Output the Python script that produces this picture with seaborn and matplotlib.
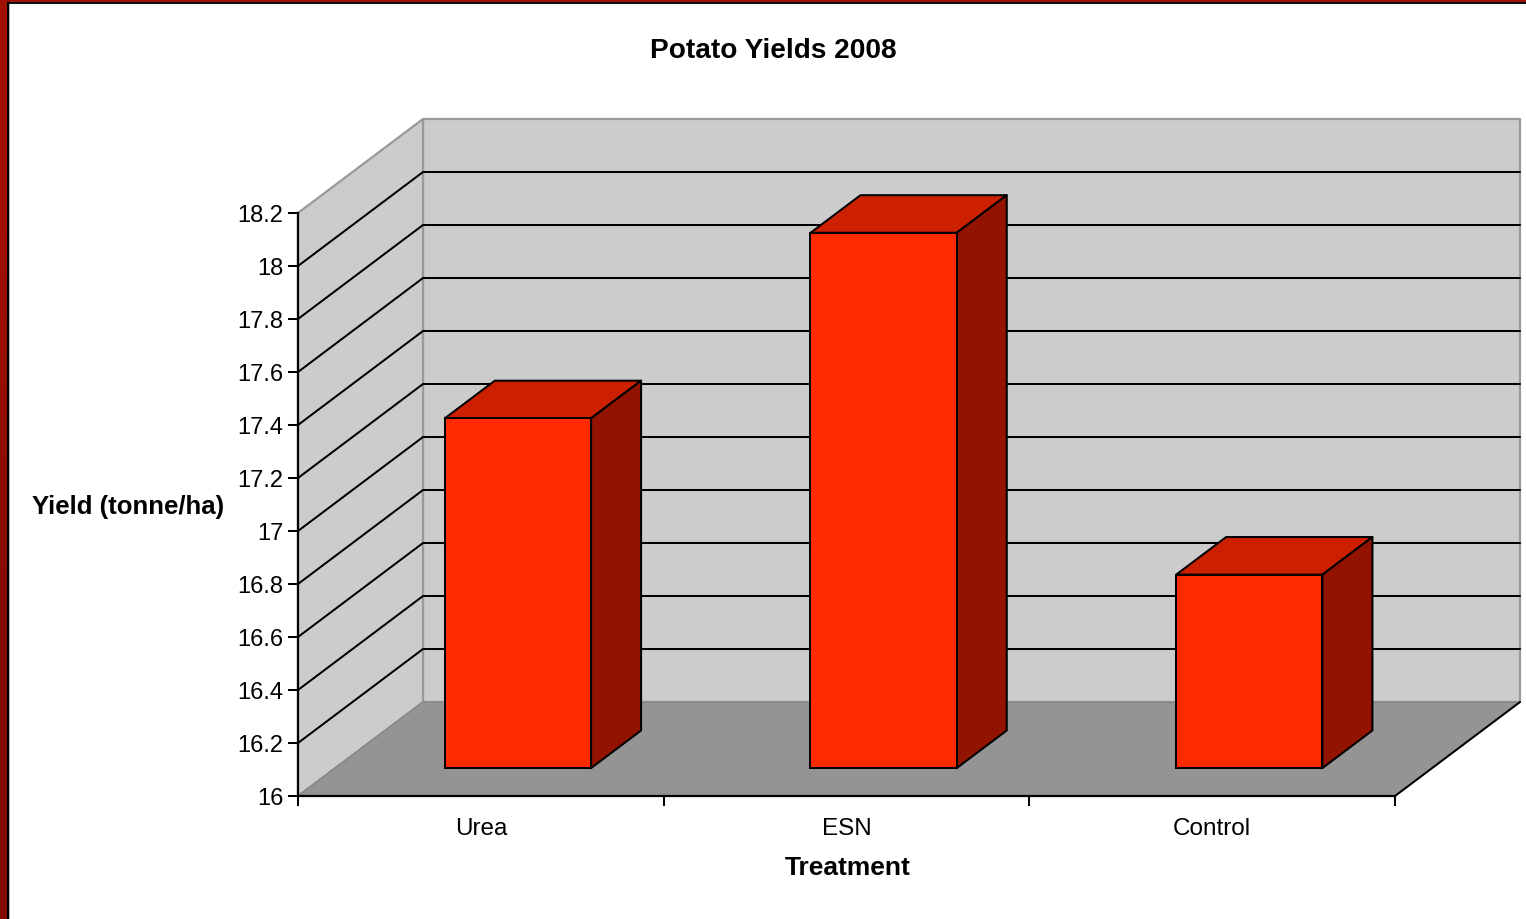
import numpy as np
import pandas as pd
import seaborn as sns
import matplotlib.pyplot as plt
from matplotlib.patches import Rectangle

# chart values
treatments = ['Urea', 'ESN', 'Control']
yields = [17.32, 18.02, 16.73]
y_ticks = [16, 16.2, 16.4, 16.6, 16.8, 17, 17.2, 17.4, 17.6, 17.8, 18, 18.2]
y_tick_labels = ['16', '16.2', '16.4', '16.6', '16.8', '17', '17.2', '17.4', '17.6', '17.8', '18', '18.2']

# figure size in pixels and the front plane of the box
W, H = 1526, 920
LEFT, RIGHT, TOP, BOTTOM = 298, 1395, 214, 797
Y_MIN, Y_MAX = 16, 18.2
# how far the back wall sits behind the front plane, in data units
DEPTH_X = 125 / (RIGHT - LEFT) * 3
DEPTH_Y = 94 / (BOTTOM - TOP) * (Y_MAX - Y_MIN)
# bar position inside the depth of the box
BAR_FRONT, BAR_BACK = 0.297, 0.697

WALL = '#cccccc'
WALL_EDGE = '#999999'
FLOOR = '#949494'
BAR_COLOR = '#ff2a00'
BAR_TOP = '#cc2000'
BAR_SIDE = '#921400'
GRID_LW = 1.45
FONT = 'Liberation Sans'


def project(x, y, depth):
    """Moves a front plane data point back into the box"""
    return x + depth * DEPTH_X, y + depth * DEPTH_Y


def face(ax, corners, color, edge='none', zorder=1, lw=GRID_LW):
    """Fills one flat side of the box or of a bar"""
    xs, ys = zip(*[project(*c) for c in corners])
    ax.fill(xs, ys, facecolor=color, edgecolor=edge, linewidth=lw, clip_on=False, zorder=zorder, joinstyle='round')


def px_rect(fig, x, y, w, h, color):
    """Adds a rectangle to the figure using pixels from the top left"""
    fig.add_artist(Rectangle((x / W, 1 - (y + h) / H), w / W, h / H, transform=fig.transFigure, facecolor=color, edgecolor='none', zorder=10))


sns.set_style("white")
plt.rcParams['font.family'] = [FONT, 'DejaVu Sans']

fig = plt.figure(figsize=(W / 100, H / 100), dpi=100, facecolor='white')
ax = fig.add_axes([LEFT / W, 1 - BOTTOM / H, (RIGHT - LEFT) / W, (BOTTOM - TOP) / H], facecolor='none')

df = pd.DataFrame({'treatment': treatments, 'yield': yields})
sns.barplot(data=df, x='treatment', y='yield', ax=ax, width=0.4, color=BAR_COLOR, saturation=1, errorbar=None, edgecolor='black', linewidth=GRID_LW, zorder=5)

x0, x1 = -0.5, len(treatments) - 0.5

# bars: move the seaborn bars back into the box and add top and side
for bar, value in zip(list(ax.patches), yields):
    bar.set_x(bar.get_x() + BAR_FRONT * DEPTH_X)
    bar.set_y(Y_MIN + BAR_FRONT * DEPTH_Y)
    bar.set_height(value - Y_MIN)
    bar.set_clip_on(False)
    bar.set_zorder(6)
    left = bar.get_x() - BAR_FRONT * DEPTH_X
    right = left + bar.get_width()
    face(ax, [(left, value, BAR_FRONT), (right, value, BAR_FRONT), (right, value, BAR_BACK), (left, value, BAR_BACK)], BAR_TOP, 'black', 5)
    face(ax, [(right, Y_MIN, BAR_FRONT), (right, value, BAR_FRONT), (right, value, BAR_BACK), (right, Y_MIN, BAR_BACK)], BAR_SIDE, 'black', 5)

# walls and floor
face(ax, [(x0, Y_MIN, 1), (x1, Y_MIN, 1), (x1, Y_MAX, 1), (x0, Y_MAX, 1)], WALL, WALL_EDGE, 1, 1.6)
face(ax, [(x0, Y_MIN, 0), (x0, Y_MIN, 1), (x0, Y_MAX, 1), (x0, Y_MAX, 0)], WALL, WALL_EDGE, 1, 1.6)
face(ax, [(x0, Y_MIN, 0), (x1, Y_MIN, 0), (x1, Y_MIN, 1), (x0, Y_MIN, 1)], FLOOR, '#888888', 2, 1)
# right hand edge of the floor
ax.plot(*zip(project(x1, Y_MIN, 0), project(x1, Y_MIN, 1)), color='black', lw=GRID_LW, clip_on=False, zorder=3)

# gridlines on the side wall and the back wall
for tick in y_ticks[1:-1]:
    ax.plot(*zip(project(x0, tick, 0), project(x0, tick, 1), project(x1, tick, 1)), color='black', lw=GRID_LW, clip_on=False, zorder=3, solid_joinstyle='miter')

# axes and ticks
ax.set_xlim(x0, x1)
ax.set_ylim(Y_MIN, Y_MAX)
ax.set_yticks(y_ticks)
ax.set_yticklabels(y_tick_labels)
ax.set_xticks(np.arange(len(treatments) + 1) - 0.5, minor=True)
ax.tick_params(axis='y', which='major', left=True, length=7.2, width=GRID_LW, color='black', pad=3.5, labelsize=17, labelcolor='black')
ax.tick_params(axis='x', which='major', bottom=False, pad=11.3, labelsize=17.5, labelcolor='black')
ax.tick_params(axis='x', which='minor', bottom=True, length=7.2, width=GRID_LW, color='black')
sns.despine(ax=ax, top=True, right=True)
for side in ['left', 'bottom']:
    ax.spines[side].set_color('black')
    ax.spines[side].set_linewidth(1.6)
    ax.spines[side].set_zorder(4)
ax.set_xlabel('')
ax.set_ylabel('')

# titles are placed by pixel like the original chart
fig.text(773 / W, 1 - 51 / H, 'Potato Yields 2008', ha='center', va='center', fontsize=20.2, fontweight='bold', color='black')
fig.text(128 / W, 1 - 507 / H, 'Yield (tonne/ha)', ha='center', va='center', fontsize=18.5, fontweight='bold', color='black')
fig.text(848 / W, 1 - 868 / H, 'Treatment', ha='center', va='center', fontsize=19, fontweight='bold', color='black')

# dark red page frame around the chart
strip = fig.add_axes([0, 0, 7 / W, 1], zorder=10)
strip.imshow([[0.0], [1.0]], aspect='auto', cmap=sns.blend_palette(['#a01000', '#800c00'], as_cmap=True), interpolation='bilinear')
strip.set_axis_off()
px_rect(fig, 0, 0, W, 3, '#a01000')
px_rect(fig, 7, 3, W - 7, 2, '#101010')
px_rect(fig, 7, 3, 2, H - 3, '#000000')
px_rect(fig, 9, 5, 1, H - 5, '#b0b0b0')

fig.savefig('out.png', dpi=100)
plt.close()
